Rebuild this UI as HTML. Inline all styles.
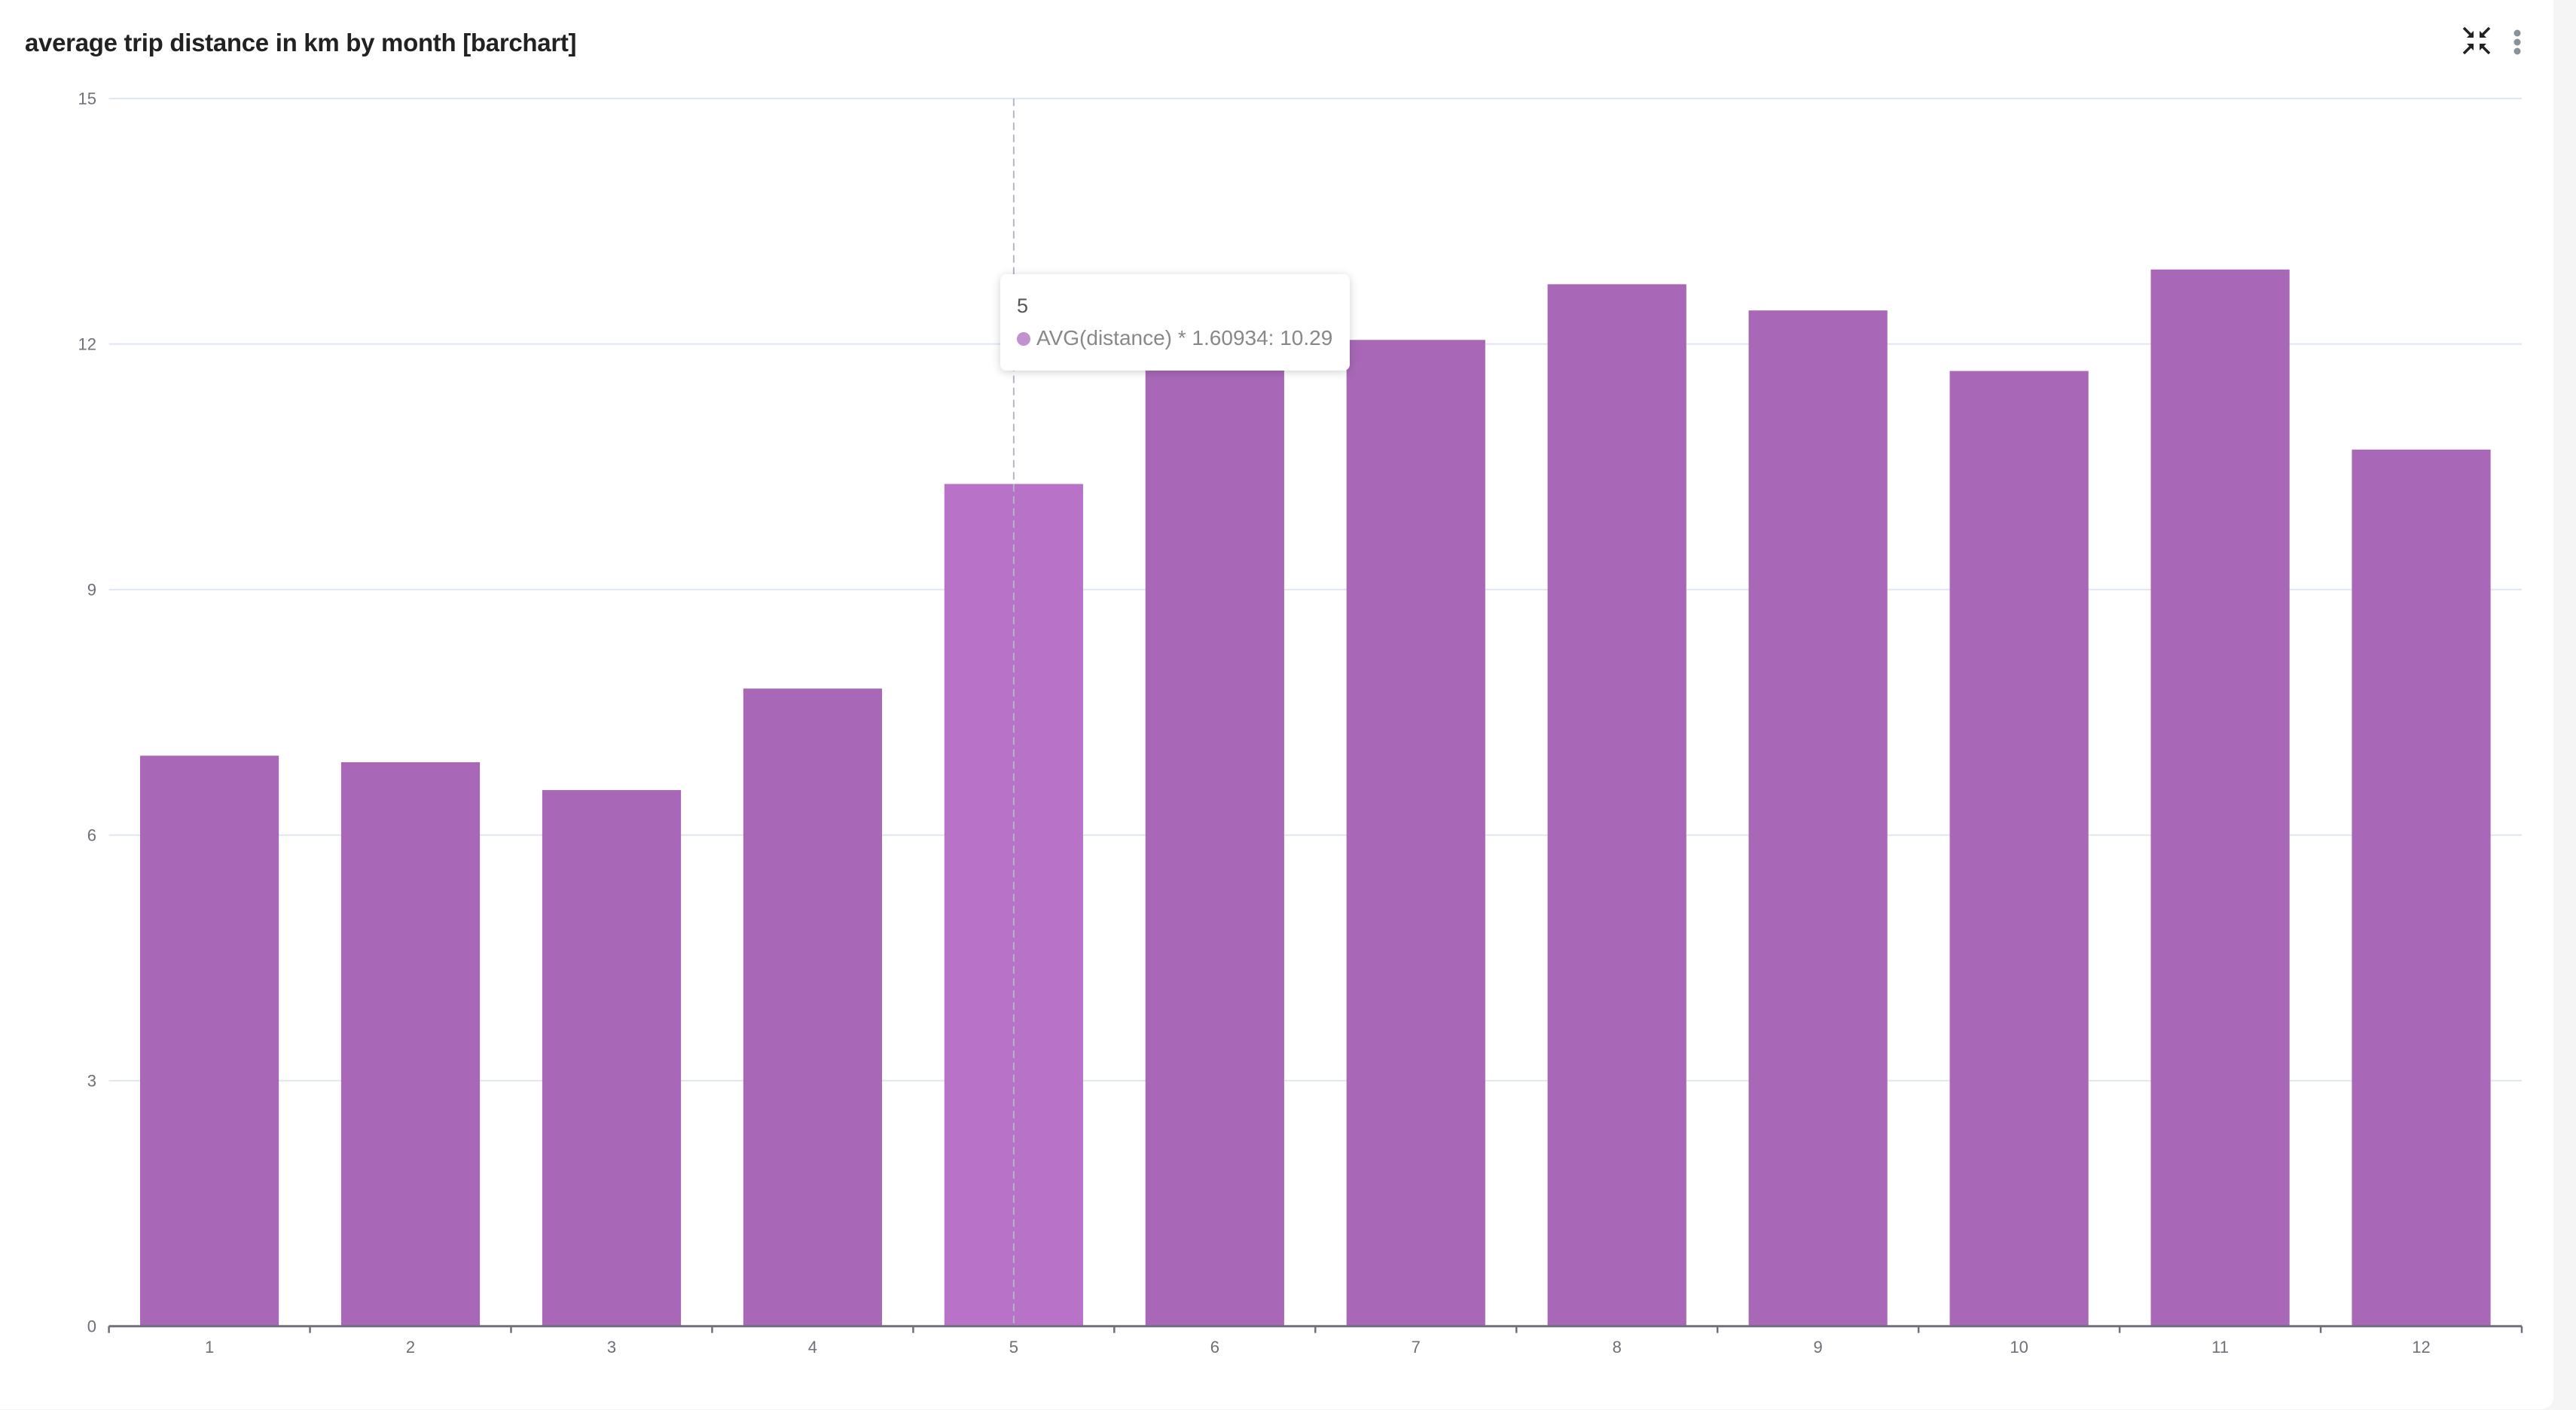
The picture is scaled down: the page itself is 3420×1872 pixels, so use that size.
<!DOCTYPE html>
<html><head><meta charset="utf-8"><style>
html,body{margin:0;padding:0;width:3420px;height:1872px;overflow:hidden;background:#f5f5f5;font-family:"Liberation Sans",sans-serif}
#card{position:absolute;left:0;top:0;width:3390px;height:1871px;background:#fff;border-radius:0 0 16px 0}
#title{position:absolute;left:33px;top:38px;font-size:33px;font-weight:bold;color:#222;letter-spacing:-0.3px}
</style></head><body>
<div id="card">
<div id="title">average trip distance in km by month [barchart]</div>
<svg width="3390" height="1871" style="position:absolute;left:0;top:0" id="chart">
<g id="grid"></g>
<g id="bars"></g>
<g id="axes"></g>
<g transform="translate(3288,54)" stroke="#222" stroke-width="3.5" fill="#222">
<line x1="-17" y1="-17" x2="-6" y2="-6"/><polygon points="-4,-4 -4,-13 -13,-4" stroke="none"/>
<line x1="17" y1="-17" x2="6" y2="-6"/><polygon points="4,-4 4,-13 13,-4" stroke="none"/>
<line x1="-17" y1="17" x2="-6" y2="6"/><polygon points="-4,4 -4,13 -13,4" stroke="none"/>
<line x1="17" y1="17" x2="6" y2="6"/><polygon points="4,4 4,13 13,4" stroke="none"/>
</g>
<g fill="#8a9299">
<circle cx="3342" cy="44" r="4.5"/><circle cx="3342" cy="56" r="4.5"/><circle cx="3342" cy="68" r="4.5"/>
</g>
</svg>
<div id="tooltip" style="position:absolute;left:1328px;top:364px;width:464px;height:128px;background:#fff;border-radius:8px;box-shadow:0 2px 12px rgba(0,0,0,0.18);box-sizing:border-box;">
<div style="position:absolute;left:22px;top:27px;font-size:27px;color:#555">5</div>
<div style="position:absolute;left:22px;top:69px;font-size:28px;color:#888;white-space:nowrap"><span style="display:inline-block;width:18px;height:18px;border-radius:50%;background:#c192d0;margin-right:8px;vertical-align:-1px"></span>AVG(distance) * 1.60934: 10.29</div>
</div>
</div>
<script>
const categories=["1","2","3","4","5","6","7","8","9","10","11","12"];
const values=[6.97,6.89,6.55,7.79,10.29,11.9,12.05,12.73,12.41,11.67,12.91,10.71];
const yTicks=[0,3,6,9,12,15];
const highlighted="5";
const NS="http://www.w3.org/2000/svg";
const L=144.6,R=3348,T=130.7,B=1760.7,yMax=15;
const band=(R-L)/categories.length;
function y(v){return B-(v/yMax)*(B-T);}
function x(i){return L+i*band;}
function mk(t,a,p){const e=document.createElementNS(NS,t);for(const k in a)e.setAttribute(k,a[k]);p.appendChild(e);return e;}
const grid=document.getElementById('grid'),bars=document.getElementById('bars'),axes=document.getElementById('axes');
yTicks.forEach(v=>{
  if(v>0){const g=mk('line',{x1:L,x2:R,y1:y(v),y2:y(v),stroke:'#e0e6f1','stroke-width':2},grid);
  
  }
  const t=mk('text',{x:128,y:y(v)+8,'text-anchor':'end','font-size':22,fill:'#6e7079'},axes);
  t.textContent=v;
  
  
});
categories.forEach((c,i)=>{
  const w=band*0.69;
  const r=mk('rect',{x:x(i)+(band-w)/2,y:y(values[i]),width:w,height:B-y(values[i]),fill:c===highlighted?'#b873c9':'#a868b7'},bars);
  
  
  const t=mk('text',{x:x(i)+band/2,y:1796,'text-anchor':'middle','font-size':22,fill:'#6e7079'},axes);
  t.textContent=c;
  
  
});
for(let i=0;i<=categories.length;i++){
  const tk=mk('line',{x1:x(i),x2:x(i),y1:B,y2:B+9,stroke:'#6e7079','stroke-width':2.5},axes);
  
  
}
const ax=mk('line',{x1:L,x2:R,y1:B,y2:B,stroke:'#6e7079','stroke-width':3},axes);


const hi=categories.indexOf(highlighted);
const cx=x(hi)+band/2;
const dl=mk('line',{x1:cx,x2:cx,y1:T,y2:B,stroke:'#b0b8c8','stroke-width':2,'stroke-dasharray':'10,6'},axes);


</script>
</body></html>
